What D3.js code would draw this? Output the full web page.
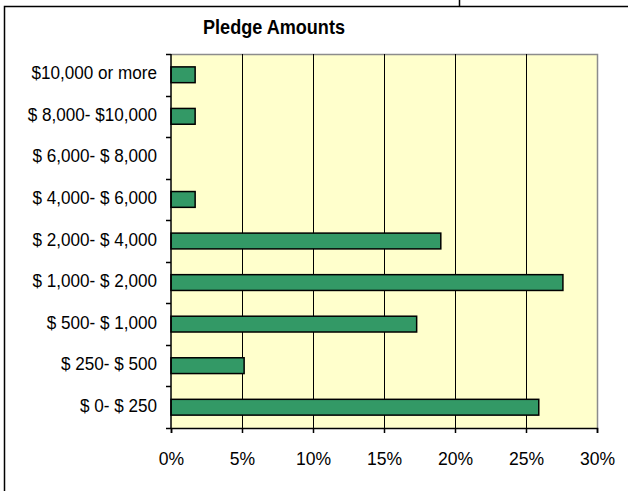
<!DOCTYPE html>
<html>
<head>
<meta charset="utf-8">
<script src="https://cdn.jsdelivr.net/npm/d3@7"></script>
<style>
html,body{margin:0;padding:0;background:#fff;}
svg{display:block;}
text{font-family:"Liberation Sans",Arial,sans-serif;fill:#000;}
</style>
</head>
<body>
<svg id="chart" width="628" height="491"></svg>
<script>
const categories = ["$10,000 or more","$ 8,000- $10,000","$ 6,000- $ 8,000","$ 4,000- $ 6,000","$ 2,000- $ 4,000","$ 1,000- $ 2,000","$ 500- $ 1,000","$ 250- $ 500","$ 0- $ 250"];
const values = [1.7, 1.7, 0, 1.7, 19.0, 27.6, 17.3, 5.15, 25.9];
const xTicks = [0,5,10,15,20,25,30];
const title = "Pledge Amounts";

(function(){
const svg = d3.select("#chart");
const pL = 171, pR = 597, pT = 54, pB = 428;
const sx = 0.925;

// outer frame lines
svg.append("path").attr("d","M4.5,491 V6.5 H628 M459.5,0 V6.5")
  .attr("fill","none").attr("stroke","#000").attr("stroke-width",1.5);

const x = d3.scaleLinear().domain([0,30]).range([pL,pR]);
const y = d3.scaleBand().domain(categories).range([pT,pB]).paddingInner(0.62).paddingOuter(0.31);

// plot background
svg.append("rect").attr("x",pL).attr("y",pT).attr("width",pR-pL).attr("height",pB-pT)
  .attr("fill","#FFFFCC");
// gray top and right border
svg.append("path").attr("d",`M${pL},${pT+0.5} H${pR+0.5} V${pB}`)
  .attr("fill","none").attr("stroke","#8c8c8c").attr("stroke-width",1.5);

// gridlines
svg.append("g").selectAll("line").data(xTicks.filter(t=>t>0&&t<30)).join("line")
  .attr("x1",d=>Math.round(x(d))+0.5).attr("x2",d=>Math.round(x(d))+0.5)
  .attr("y1",pT).attr("y2",pB).attr("stroke","#000").attr("stroke-width",1);

// bars
svg.append("g").selectAll("rect").data(categories.map((c,i)=>({c,v:values[i]})).filter(d=>d.v>0)).join("rect")
  .attr("x",x(0)).attr("y",d=>y(d.c)).attr("width",d=>x(d.v)-x(0)).attr("height",y.bandwidth())
  .attr("fill","#339966").attr("stroke","#000").attr("stroke-width",1.5);

// x axis
const xAxis = d3.axisBottom(x).tickValues(xTicks).tickFormat(d=>d+"%").tickSize(5).tickPadding(14);
const gx = svg.append("g").attr("transform",`translate(0,${pB})`).call(xAxis);
gx.select(".domain").attr("stroke","#000").attr("stroke-width",1.5);
gx.selectAll(".tick line").attr("stroke","#000").attr("stroke-width",1.5);
gx.selectAll(".tick text").attr("font-size",19).attr("font-family","Liberation Sans, Arial, sans-serif")
  .attr("fill","#000").attr("dy",null).attr("y",37.5)
  .attr("transform",`scale(${sx},1)`);

// y axis: ticks at band boundaries
const boundaries = d3.range(categories.length+1).map(i=>pT + i*(pB-pT)/categories.length);
svg.append("g").selectAll("line").data(boundaries).join("line")
  .attr("x1",pL-5).attr("x2",pL).attr("y1",d=>Math.round(d)+0.5).attr("y2",d=>Math.round(d)+0.5)
  .attr("stroke","#000").attr("stroke-width",1.5);
svg.append("line").attr("x1",pL).attr("x2",pL).attr("y1",pT).attr("y2",pB)
  .attr("stroke","#000").attr("stroke-width",1.5);
svg.append("g").selectAll("text").data(categories).join("text")
  .attr("transform",d=>`translate(157,${y(d)+y.bandwidth()/2+4.6}) scale(${sx},1)`)
  .attr("text-anchor","end").attr("font-size",18.5).text(d=>d);

// title
svg.append("text").attr("x",274).attr("y",34).attr("text-anchor","middle")
  .attr("font-size",20.5).attr("font-weight","bold")
  .attr("textLength",142).attr("lengthAdjust","spacingAndGlyphs").text(title);
})();
</script>
</body>
</html>
